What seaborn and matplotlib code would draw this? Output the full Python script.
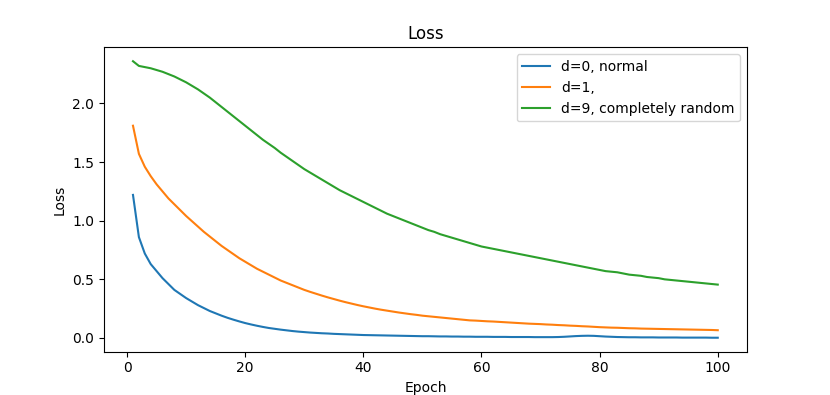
import matplotlib
matplotlib.use("Agg")
import matplotlib.pyplot as plt
import seaborn as sns
import pandas as pd

# loss per epoch for each setting
epochs = list(range(1, 101))

loss_d0 = [
    1.22, 0.86, 0.72, 0.63, 0.57, 0.51, 0.46, 0.41, 0.375, 0.34,
    0.31, 0.28, 0.255, 0.23, 0.21, 0.19, 0.172, 0.156, 0.141, 0.127,
    0.115, 0.104, 0.094, 0.085, 0.078, 0.071, 0.065, 0.059, 0.054, 0.05,
    0.046, 0.043, 0.04, 0.038, 0.035, 0.033, 0.031, 0.029, 0.027, 0.025,
    0.024, 0.023, 0.022, 0.021, 0.02, 0.019, 0.018, 0.017, 0.016, 0.015,
    0.015, 0.014, 0.013, 0.013, 0.012, 0.012, 0.011, 0.011, 0.01, 0.01,
    0.01, 0.009, 0.009, 0.009, 0.008, 0.008, 0.008, 0.008, 0.007, 0.007,
    0.007, 0.007, 0.008, 0.01, 0.013, 0.016, 0.018, 0.019, 0.018, 0.015,
    0.012, 0.01, 0.008, 0.007, 0.006, 0.006, 0.005, 0.005, 0.005, 0.004,
    0.004, 0.004, 0.004, 0.003, 0.003, 0.003, 0.003, 0.003, 0.002, 0.002,
]

loss_d1 = [
    1.81, 1.57, 1.46, 1.38, 1.31, 1.25, 1.19, 1.14, 1.09, 1.04,
    0.995, 0.95, 0.905, 0.865, 0.825, 0.785, 0.75, 0.715, 0.68, 0.65,
    0.62, 0.59, 0.565, 0.54, 0.515, 0.49, 0.47, 0.45, 0.43, 0.41,
    0.393, 0.377, 0.361, 0.346, 0.332, 0.318, 0.305, 0.293, 0.281, 0.27,
    0.26, 0.25, 0.241, 0.233, 0.225, 0.217, 0.21, 0.203, 0.197, 0.19,
    0.185, 0.18, 0.175, 0.17, 0.165, 0.16, 0.155, 0.15, 0.148, 0.145,
    0.142, 0.14, 0.137, 0.134, 0.131, 0.128, 0.125, 0.122, 0.12, 0.118,
    0.115, 0.113, 0.11, 0.108, 0.105, 0.103, 0.10, 0.098, 0.095, 0.092,
    0.09, 0.088, 0.087, 0.085, 0.083, 0.082, 0.08, 0.079, 0.078, 0.077,
    0.076, 0.075, 0.074, 0.073, 0.072, 0.071, 0.07, 0.069, 0.068, 0.066,
]

loss_d9 = [
    2.36, 2.32, 2.31, 2.30, 2.285, 2.27, 2.25, 2.23, 2.205, 2.18,
    2.15, 2.12, 2.085, 2.05, 2.01, 1.97, 1.93, 1.89, 1.85, 1.81,
    1.77, 1.73, 1.69, 1.655, 1.62, 1.58, 1.545, 1.51, 1.475, 1.44,
    1.41, 1.38, 1.35, 1.32, 1.29, 1.26, 1.235, 1.21, 1.185, 1.16,
    1.135, 1.11, 1.085, 1.06, 1.04, 1.02, 1.00, 0.98, 0.96, 0.94,
    0.92, 0.905, 0.885, 0.87, 0.855, 0.84, 0.825, 0.81, 0.795, 0.78,
    0.77, 0.76, 0.75, 0.74, 0.73, 0.72, 0.71, 0.70, 0.69, 0.68,
    0.67, 0.66, 0.65, 0.64, 0.63, 0.62, 0.61, 0.60, 0.59, 0.58,
    0.57, 0.565, 0.56, 0.55, 0.54, 0.535, 0.53, 0.52, 0.515, 0.51,
    0.50, 0.495, 0.49, 0.485, 0.48, 0.475, 0.47, 0.465, 0.46, 0.455,
]

labels = ["d=0, normal", "d=1,", "d=9, completely random"]

# long format for seaborn
df = pd.concat([
    pd.DataFrame({"epoch": epochs, "loss": loss_d0, "run": labels[0]}),
    pd.DataFrame({"epoch": epochs, "loss": loss_d1, "run": labels[1]}),
    pd.DataFrame({"epoch": epochs, "loss": loss_d9, "run": labels[2]}),
])

fig, ax = plt.subplots(figsize=(8.3, 3.95), dpi=100)

sns.lineplot(data=df, x="epoch", y="loss", hue="run", hue_order=labels,
             palette=["#1f77b4", "#ff7f0e", "#2ca02c"], linewidth=1.5, ax=ax)

ax.set_title("Loss")
ax.set_xlabel("Epoch")
ax.set_ylabel("Loss")
ax.legend(loc="upper right")

fig.savefig("out.png")
plt.close()
